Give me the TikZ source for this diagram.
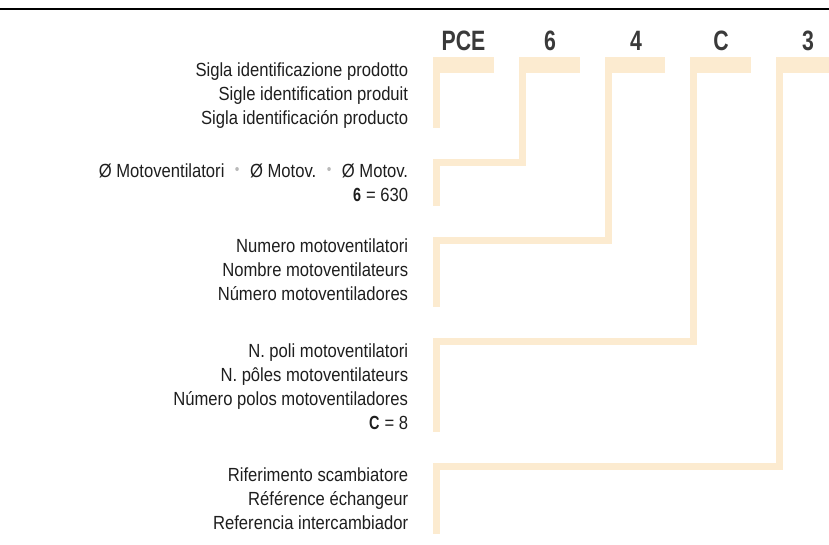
\documentclass[tikz,border=0pt]{standalone}
\usepackage{fontspec}
\setmainfont{Liberation Sans}
\newfontfamily\bodyfont[FakeStretch=0.875]{Liberation Sans}
\newfontfamily\condbold[FakeStretch=0.76]{Liberation Sans}
\definecolor{barcol}{RGB}{252,235,208}
\definecolor{textcol}{RGB}{30,30,30}
\definecolor{headcol}{RGB}{58,58,58}
\definecolor{dotcol}{RGB}{185,185,185}
\newcommand{\bd}[1]{{\condbold\bfseries #1}\hspace{5pt}}
\newcommand{\sepdot}{\hspace{10.5pt}\raisebox{3pt}{\textcolor{dotcol}{\fontsize{15}{15}\selectfont •}}\hspace{10.5pt}}
\tikzset{
  bar/.style={fill=barcol, draw=none},
  lbl/.style={anchor=base east, inner sep=0pt, text=textcol, font=\bodyfont\fontsize{19}{22}\selectfont},
  head/.style={anchor=base, inner sep=0pt, text=headcol, font=\condbold\bfseries\fontsize{28}{30}\selectfont},
  rule/.style={draw=black, line width=1.2pt}
}
\begin{document}
\begin{tikzpicture}[x=1pt,y=-1pt]
\useasboundingbox (0,0) rectangle (829,544);
% top rule
\coordinate (rl) at (0,9);
\coordinate (rr) at (829,9);
\draw[rule] (rl) -- (rr);
% header codes
\node[head] (hP) at (463.5,50) {PCE};
\node[head] (h6) at (550,50) {6};
\node[head] (h4) at (636,50) {4};
\node[head] (hC) at (721,50) {C};
\node[head] (h3) at (808,50) {3};
% bars: PCE
\fill[bar] (433.3,57.3) rectangle (494,73.3);
\fill[bar] (433.3,57.3) rectangle (440,128);
% bars: 6
\fill[bar] (519.3,57.3) rectangle (580,73.3);
\fill[bar] (519.3,57.3) rectangle (526,166);
\fill[bar] (433.3,159) rectangle (526,166);
\fill[bar] (433.3,159) rectangle (440,206);
% bars: 4
\fill[bar] (605,57.3) rectangle (665.3,73.3);
\fill[bar] (605,57.3) rectangle (611.7,243.7);
\fill[bar] (433.3,236.5) rectangle (611.7,243.7);
\fill[bar] (433.3,236.5) rectangle (440,307);
% bars: C
\fill[bar] (690,57.3) rectangle (751,73.3);
\fill[bar] (690,57.3) rectangle (697,344.7);
\fill[bar] (433.3,337.5) rectangle (697,344.7);
\fill[bar] (433.3,337.5) rectangle (440,432);
% bars: 3
\fill[bar] (776,57.3) rectangle (829,73.3);
\fill[bar] (776,57.3) rectangle (782.7,470);
\fill[bar] (433.3,462.8) rectangle (782.7,470);
\fill[bar] (433.3,462.8) rectangle (440,534);
% labels group 1
\node[lbl] (a1) at (408.3,76) {Sigla identificazione prodotto};
\node[lbl] (a2) at (408.3,100) {Sigle identification produit};
\node[lbl] (a3) at (408.3,124) {Sigla identificación producto};
% group 2
\node[lbl] (b1) at (408.3,177) {Ø Motoventilatori\sepdot Ø Motov.\sepdot Ø Motov.};
\node[lbl] (b2) at (408.3,201) {\bd{6}= 630};
% group 3
\node[lbl] (c1) at (408.3,252) {Numero motoventilatori};
\node[lbl] (c2) at (408.3,276) {Nombre motoventilateurs};
\node[lbl] (c3) at (408.3,300) {Número motoventiladores};
% group 4
\node[lbl] (d1) at (408.3,357) {N. poli motoventilatori};
\node[lbl] (d2) at (408.3,381) {N. pôles motoventilateurs};
\node[lbl] (d3) at (408.3,405) {Número polos motoventiladores};
\node[lbl] (d4) at (408.3,429) {\bd{C}= 8};
% group 5
\node[lbl] (e1) at (408.3,481) {Riferimento scambiatore};
\node[lbl] (e2) at (408.3,505) {Référence échangeur};
\node[lbl] (e3) at (408.3,529) {Referencia intercambiador};
\end{tikzpicture}
\end{document}
